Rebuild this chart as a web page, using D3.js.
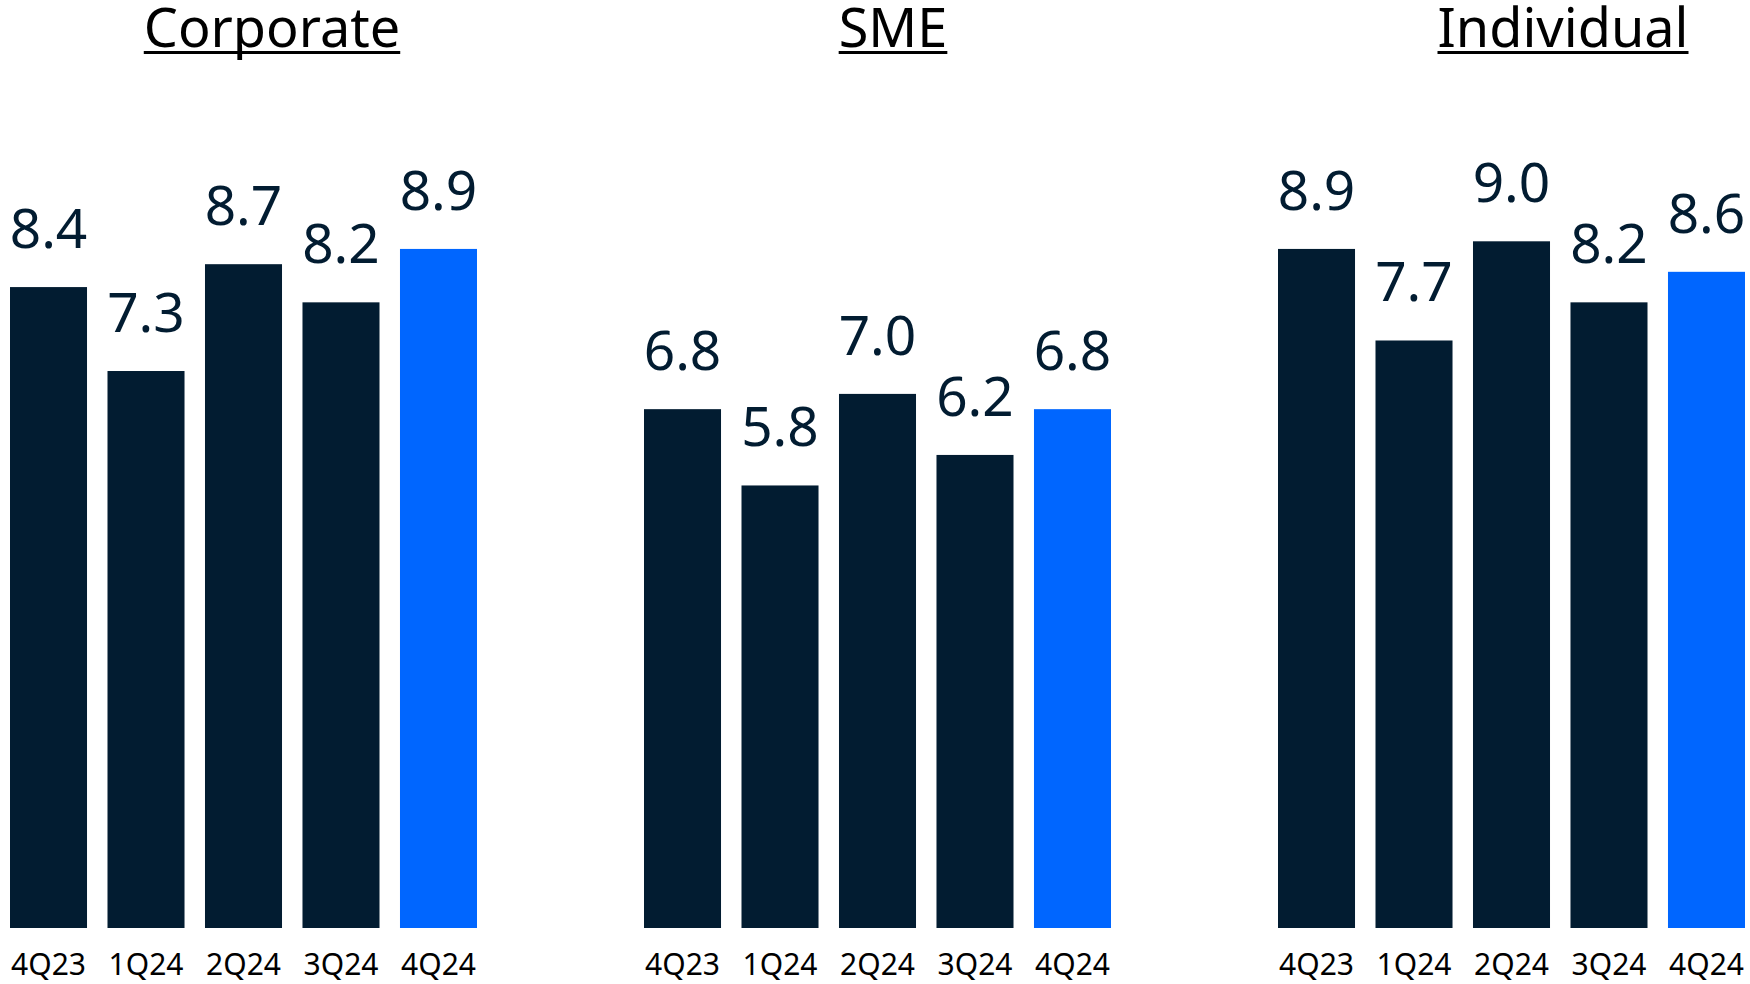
<!DOCTYPE html>
<html>
<head>
<meta charset="utf-8">
<script src="https://cdn.jsdelivr.net/npm/d3@7"></script>
<style>
  html, body { margin: 0; padding: 0; background: #fff; }
  svg { display: block; font-family: "Noto Sans", "Open Sans", sans-serif; }
</style>
</head>
<body>
<svg id="chart" width="1750" height="984"></svg>
<script>
// Quarters shown on every panel
const quarters = ["4Q23", "1Q24", "2Q24", "3Q24", "4Q24"];

// Segment names
const segments = ["Corporate", "SME", "Individual"];

// Values per segment, one per quarter
const corporateValues = [8.4, 7.3, 8.7, 8.2, 8.9];
const smeValues = [6.8, 5.8, 7.0, 6.2, 6.8];
const individualValues = [8.9, 7.7, 9.0, 8.2, 8.6];

const seriesBySegment = [corporateValues, smeValues, individualValues];

const W = 1750, H = 984;
const baseline = 928;
const panelWidth = 467;
const panelStarts = [10, 644, 1278];
const titleCenters = [272, 893, 1563];

const navy = "#021c31";
const blue = "#0066ff";

const svg = d3.select("#chart");

const y = d3.scaleLinear().domain([0, 10]).range([baseline, baseline - 763]);

segments.forEach((name, i) => {
  const values = seriesBySegment[i];
  const x0 = panelStarts[i];
  const x = d3.scaleBand()
    .domain(quarters)
    .range([x0, x0 + panelWidth])
    .paddingInner(0.21)
    .paddingOuter(0);

  const g = svg.append("g").attr("class", "panel");

  // Bars (latest quarter highlighted)
  g.selectAll("rect")
    .data(values)
    .join("rect")
    .attr("x", (d, j) => x(quarters[j]))
    .attr("y", d => y(d))
    .attr("width", x.bandwidth())
    .attr("height", d => y(0) - y(d))
    .attr("fill", (d, j) => j === quarters.length - 1 ? blue : navy);

  // Value labels above bars
  g.selectAll("text.value")
    .data(values)
    .join("text")
    .attr("class", "value")
    .attr("x", (d, j) => x(quarters[j]) + x.bandwidth() / 2)
    .attr("y", d => y(d) - 39)
    .attr("text-anchor", "middle")
    .attr("font-size", 55)
    .attr("fill", navy)
    .text(d => d.toFixed(1));

  // Quarter labels along the bottom
  const axis = g.append("g")
    .attr("transform", `translate(0,${baseline})`)
    .call(d3.axisBottom(x).tickSize(0).tickPadding(0));
  axis.select(".domain").remove();
  axis.selectAll("text")
    .attr("dy", null)
    .attr("y", 47)
    .attr("font-family", "\"Noto Sans\", sans-serif")
    .attr("font-size", 30)
    .attr("fill", "#000");

  // Underlined segment title
  const title = svg.append("text")
    .attr("x", titleCenters[i])
    .attr("y", 47)
    .attr("text-anchor", "middle")
    .attr("font-size", 54)
    .attr("fill", "#000")
    .text(name);
  const bb = title.node().getBBox();
  svg.append("rect")
    .attr("x", bb.x)
    .attr("y", 51)
    .attr("width", bb.width)
    .attr("height", 3)
    .attr("fill", "#000");
});
</script>
</body>
</html>
